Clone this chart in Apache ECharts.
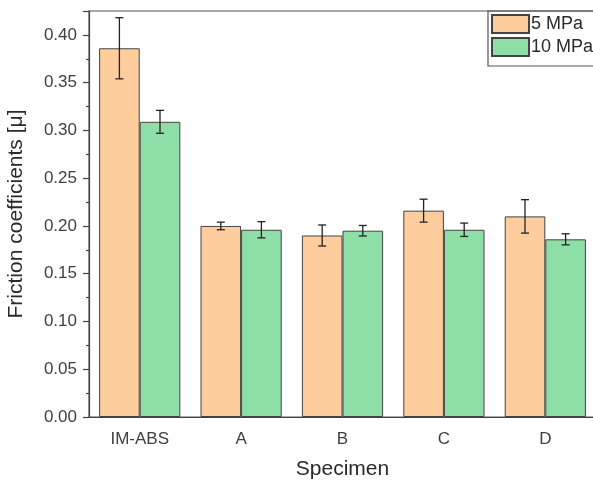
<!DOCTYPE html>
<html>
<head>
<meta charset="utf-8">
<script src="https://cdn.jsdelivr.net/npm/echarts@6/dist/echarts.min.js"></script>
<style>
  html, body { margin: 0; padding: 0; background: #fff; }
  #chart { width: 593px; height: 481px; }
</style>
</head>
<body>
<div id="chart"></div>
<script>
// Friction coefficients per specimen at two contact pressures
const categories = ['IM-ABS', 'A', 'B', 'C', 'D'];
const seriesNames = ['5 MPa', '10 MPa'];
const mean5MPa = [0.386, 0.200, 0.190, 0.216, 0.210];
const err5MPa = [0.032, 0.004, 0.011, 0.012, 0.0175];
const mean10MPa = [0.309, 0.196, 0.195, 0.196, 0.186];
const err10MPa = [0.012, 0.0085, 0.0055, 0.007, 0.0058];
const yTicks = [0, 0.05, 0.10, 0.15, 0.20, 0.25, 0.30, 0.35, 0.40];

const FONT = 'Liberation Sans, Arial, sans-serif';
const BAR_W = 40.6;
const colors = ['#FDCD9E', '#8EDEA8'];

const chart = echarts.init(document.getElementById('chart'));

// error bars drawn at the centre of each bar in a group
function errorSeries(means, errs, side) {
  const data = means.map((m, i) => [i, m - errs[i], m + errs[i]]);
  return {
    type: 'custom',
    name: 'err' + side,
    xAxisIndex: 0,
    silent: true,
    z: 5,
    renderItem: function (params, api) {
      const lo = api.coord([api.value(0), api.value(1)]);
      const hi = api.coord([api.value(0), api.value(2)]);
      const x = lo[0] + side * BAR_W / 2;
      const cap = 4;
      const style = { stroke: '#222', lineWidth: 1.3 };
      return {
        type: 'group',
        children: [
          { type: 'line', shape: { x1: x, y1: lo[1], x2: x, y2: hi[1] }, style: style },
          { type: 'line', shape: { x1: x - cap, y1: lo[1], x2: x + cap, y2: lo[1] }, style: style },
          { type: 'line', shape: { x1: x - cap, y1: hi[1], x2: x + cap, y2: hi[1] }, style: style }
        ]
      };
    },
    data: data
  };
}

chart.setOption({
  animation: false,
  backgroundColor: '#fff',
  grid: {
    left: 89, right: -3, top: 11, bottom: 64,
    outerBoundsMode: 'none',
    containLabel: false,
    show: true, borderColor: '#555', borderWidth: 1.2, backgroundColor: 'transparent'
  },
  legend: {
    data: seriesNames,
    orient: 'vertical',
    left: 488, top: 11,
    itemWidth: 37, itemHeight: 18, itemGap: 3,
    padding: [3, 20, 9, 3],
    borderColor: '#555', borderWidth: 1.2,
    icon: 'rect',
    textStyle: { fontFamily: FONT, fontSize: 18, color: '#2a2a2a', padding: [0, 0, 0, -3] },
    selectedMode: false
  },
  xAxis: [
    {
      type: 'category',
      data: categories,
      name: 'Specimen',
      nameLocation: 'middle',
      nameGap: 42,
      nameTextStyle: { fontFamily: FONT, fontSize: 21, color: '#2a2a2a' },
      axisLine: { lineStyle: { color: '#444', width: 1.2 } },
      axisTick: { alignWithLabel: true, length: 7, lineStyle: { color: '#444', width: 1.2 } },
      axisLabel: { fontFamily: FONT, fontSize: 17, color: '#404040', margin: 14 }
    },
    {
      // minor ticks on the boundaries between categories
      type: 'category',
      data: categories,
      position: 'bottom',
      axisLine: { show: false },
      axisLabel: { show: false },
      axisTick: {
        alignWithLabel: false, length: 3,
        interval: function (i) { return i > 0; },
        lineStyle: { color: '#444', width: 1.2 }
      }
    }
  ],
  yAxis: {
    type: 'value',
    min: 0, max: 0.425, interval: 0.05,
    name: 'Friction coefficients [μ]',
    nameLocation: 'middle',
    nameGap: 62,
    nameTextStyle: { fontFamily: FONT, fontSize: 21, color: '#2a2a2a' },
    axisLine: { show: true, lineStyle: { color: '#444', width: 1.2 } },
    axisTick: { show: true, length: 6, lineStyle: { color: '#444', width: 1.2 } },
    minorTick: { show: true, splitNumber: 2, length: 3, lineStyle: { color: '#444', width: 1.2 } },
    splitLine: { show: false },
    axisLabel: {
      fontFamily: FONT, fontSize: 17, color: '#404040', margin: 12,
      formatter: function (v) {
        return yTicks.some(t => Math.abs(t - v) < 1e-9) ? v.toFixed(2) : '';
      }
    }
  },
  series: [
    {
      name: seriesNames[0], type: 'bar', data: mean5MPa, barWidth: BAR_W, barGap: '0%',
      itemStyle: { color: colors[0], borderColor: '#444', borderWidth: 1 }
    },
    {
      name: seriesNames[1], type: 'bar', data: mean10MPa, barWidth: BAR_W, barGap: '0%',
      itemStyle: { color: colors[1], borderColor: '#444', borderWidth: 1 }
    },
    errorSeries(mean5MPa, err5MPa, -1),
    errorSeries(mean10MPa, err10MPa, 1)
  ]
});
</script>
</body>
</html>
